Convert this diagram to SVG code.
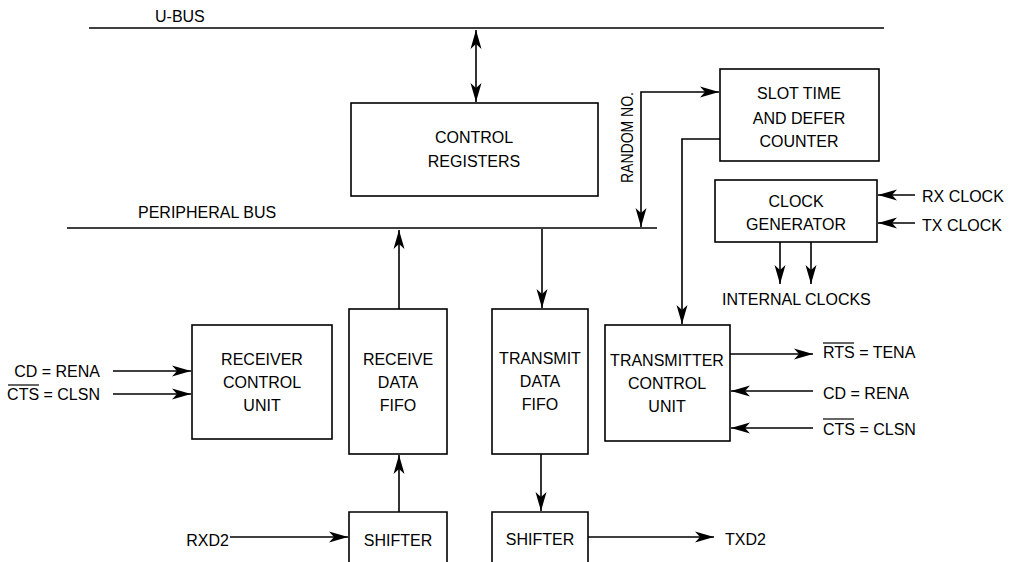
<svg xmlns="http://www.w3.org/2000/svg" width="1014" height="562" viewBox="0 0 1014 562">
<defs>
<marker id="ah" markerUnits="userSpaceOnUse" markerWidth="20" markerHeight="12" refX="19" refY="6" orient="auto-start-reverse" viewBox="0 0 20 12">
<path d="M0,0.5 L19,6 L0,11.5 L5,6 z" fill="#000"/>
</marker>
<style>
.box{fill:#fff;stroke:#000;stroke-width:1.6}
.ln{fill:none;stroke:#000;stroke-width:1.6}
.ar{fill:none;stroke:#000;stroke-width:1.6;marker-end:url(#ah)}
.t{font-family:"Liberation Sans",Arial,sans-serif;font-size:16px;fill:#000}
.c{text-anchor:middle}
.e{text-anchor:end}
.ol{stroke:#000;stroke-width:1.2}
</style>
</defs>
<rect width="1014" height="562" fill="#fff"/>

<g id="buses">
<line class="ln" x1="89" y1="28" x2="884" y2="28"/>
<text class="t" x="155" y="22">U-BUS</text>
<line class="ln" x1="67" y1="228" x2="657" y2="228"/>
<text class="t" x="138" y="218">PERIPHERAL BUS</text>
</g>

<g id="connectors">
<line class="ar" x1="476" y1="30" x2="476" y2="102" style="marker-start:url(#ah)"/>
<line class="ar" x1="399" y1="309" x2="399" y2="230"/>
<line class="ar" x1="542" y1="229" x2="542" y2="308"/>
<polyline class="ar" points="641,227 641,92 719,92" style="marker-end:url(#ah);marker-start:url(#ah)"/>
<polyline class="ar" points="720,139 682,139 682,324"/>
<line class="ar" x1="915" y1="195" x2="878" y2="195"/>
<line class="ar" x1="915" y1="223" x2="878" y2="223"/>
<line class="ar" x1="780" y1="242" x2="780" y2="284"/>
<line class="ar" x1="811" y1="242" x2="811" y2="284"/>
<line class="ar" x1="113" y1="371" x2="191" y2="371"/>
<line class="ar" x1="113" y1="394" x2="191" y2="394"/>
<line class="ar" x1="399" y1="512" x2="399" y2="455"/>
<line class="ar" x1="541" y1="454" x2="541" y2="511"/>
<line class="ar" x1="230" y1="537" x2="348" y2="537"/>
<line class="ar" x1="588" y1="537" x2="714" y2="537"/>
<line class="ar" x1="730" y1="354" x2="813" y2="354"/>
<line class="ar" x1="813" y1="391" x2="731" y2="391"/>
<line class="ar" x1="813" y1="428" x2="731" y2="428"/>
</g>

<g id="control-registers">
<rect class="box" x="351" y="103" width="247" height="93"/>
<text class="t c" x="474" y="143">CONTROL</text>
<text class="t c" x="474" y="167">REGISTERS</text>
</g>

<g id="slot-time">
<rect class="box" x="720" y="69" width="159" height="92"/>
<text class="t c" x="799" y="99">SLOT TIME</text>
<text class="t c" x="799" y="124">AND DEFER</text>
<text class="t c" x="799" y="147">COUNTER</text>
</g>
<text class="t" transform="translate(633,183) rotate(-90)" textLength="91" lengthAdjust="spacingAndGlyphs">RANDOM NO.</text>

<g id="clock-generator">
<rect class="box" x="715" y="180" width="162" height="62"/>
<text class="t c" x="796" y="207">CLOCK</text>
<text class="t c" x="796" y="230">GENERATOR</text>
</g>
<text class="t" x="922" y="202">RX CLOCK</text>
<text class="t" x="922" y="231">TX CLOCK</text>
<text class="t" x="722" y="305">INTERNAL CLOCKS</text>

<g id="receiver-control">
<rect class="box" x="192" y="325" width="140" height="114"/>
<text class="t c" x="262" y="365">RECEIVER</text>
<text class="t c" x="262" y="388">CONTROL</text>
<text class="t c" x="262" y="411">UNIT</text>
</g>
<text class="t e" x="100" y="377">CD = RENA</text>
<text class="t e" x="100" y="400">CTS = CLSN</text>
<line class="ol" x1="8" y1="385" x2="39" y2="385"/>

<g id="receive-fifo">
<rect class="box" x="349" y="309" width="98" height="145"/>
<text class="t c" x="398" y="365">RECEIVE</text>
<text class="t c" x="398" y="388">DATA</text>
<text class="t c" x="398" y="411">FIFO</text>
</g>

<g id="transmit-fifo">
<rect class="box" x="492" y="309" width="96" height="145"/>
<text class="t c" x="540" y="364">TRANSMIT</text>
<text class="t c" x="540" y="387">DATA</text>
<text class="t c" x="540" y="410">FIFO</text>
</g>

<g id="transmitter-control">
<rect class="box" x="605" y="325" width="125" height="116"/>
<text class="t c" x="667" y="366">TRANSMITTER</text>
<text class="t c" x="667" y="389">CONTROL</text>
<text class="t c" x="667" y="412">UNIT</text>
</g>
<text class="t" x="823" y="358">RTS = TENA</text>
<line class="ol" x1="823" y1="343" x2="854" y2="343"/>
<text class="t" x="823" y="399">CD = RENA</text>
<text class="t" x="823" y="435">CTS = CLSN</text>
<line class="ol" x1="823" y1="419" x2="854" y2="419"/>

<g id="rx-shifter">
<path class="box" d="M349,563 L349,512 L447,512 L447,563"/>
<text class="t c" x="398" y="546">SHIFTER</text>
</g>
<text class="t e" x="229" y="546">RXD2</text>

<g id="tx-shifter">
<path class="box" d="M492,563 L492,512 L588,512 L588,563"/>
<text class="t c" x="540" y="545">SHIFTER</text>
</g>
<text class="t" x="725" y="545">TXD2</text>
</svg>
